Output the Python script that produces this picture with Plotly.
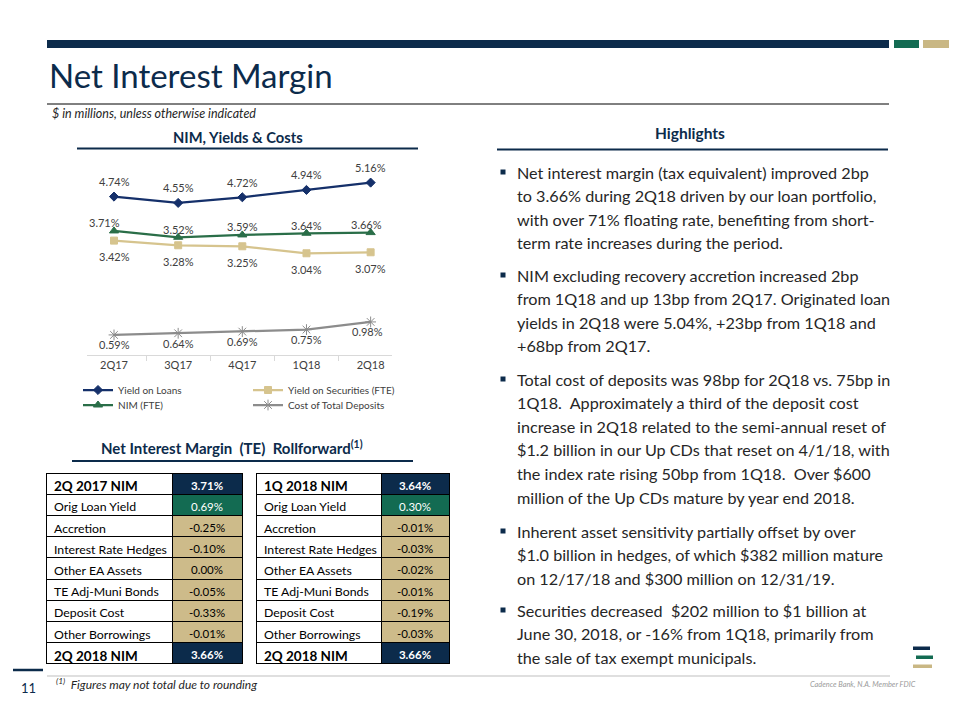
import plotly.graph_objects as go

W, H = 960, 720


def X(px):
    return px / W


def Y(py):
    return 1 - py / H


# ---------------- data ----------------
quarters = ["2Q17", "3Q17", "4Q17", "1Q18", "2Q18"]
yield_loans = [4.74, 4.55, 4.72, 4.94, 5.16]
yield_securities = [3.42, 3.28, 3.25, 3.04, 3.07]
nim_fte = [3.71, 3.52, 3.59, 3.64, 3.66]
cost_deposits = [0.59, 0.64, 0.69, 0.75, 0.98]

roll_labels_left = ["2Q 2017 NIM", "Orig Loan Yield", "Accretion", "Interest Rate Hedges",
                    "Other EA Assets", "TE Adj-Muni Bonds", "Deposit Cost", "Other Borrowings",
                    "2Q 2018 NIM"]
roll_values_left = [3.71, 0.69, -0.25, -0.10, 0.00, -0.05, -0.33, -0.01, 3.66]
roll_labels_right = ["1Q 2018 NIM", "Orig Loan Yield", "Accretion", "Interest Rate Hedges",
                     "Other EA Assets", "TE Adj-Muni Bonds", "Deposit Cost", "Other Borrowings",
                     "2Q 2018 NIM"]
roll_values_right = [3.64, 0.30, -0.01, -0.03, -0.02, -0.01, -0.19, -0.03, 3.66]

highlights = [
    ["Net interest margin (tax equivalent) improved 2bp",
     "to 3.66% during 2Q18 driven by our loan portfolio,",
     "with over 71% floating rate, benefiting from short-",
     "term rate increases during the period."],
    ["NIM excluding recovery accretion increased 2bp",
     "from 1Q18 and up 13bp from 2Q17. Originated loan",
     "yields in 2Q18 were 5.04%, +23bp from 1Q18 and",
     "+68bp from 2Q17."],
    ["Total cost of deposits was 98bp for 2Q18 vs. 75bp in",
     "1Q18.  Approximately a third of the deposit cost",
     "increase in 2Q18 related to the semi-annual reset of",
     "$1.2 billion in our Up CDs that reset on 4/1/18, with",
     "the index rate rising 50bp from 1Q18.  Over $600",
     "million of the Up CDs mature by year end 2018."],
    ["Inherent asset sensitivity partially offset by over",
     "$1.0 billion in hedges, of which $382 million mature",
     "on 12/17/18 and $300 million on 12/31/19."],
    ["Securities decreased  $202 million to $1 billion at",
     "June 30, 2018, or -16% from 1Q18, primarily from",
     "the sale of tax exempt municipals."],
]
para_tops = [172, 275, 379, 531, 610]
line_step = 23.6

# ---------------- style ----------------
FONT = "Lato"
NAVY = "#0c2b4b"
GREEN = "#136b52"
GOLD = "#c9b784"
TAN = "#cdbb8a"
LOAN_C = "#15306a"
NIM_C = "#2a6e48"
SEC_C = "#d6c48e"
DEP_C = "#8c8c8c"
LBL_C = "#404040"

fig = go.Figure()

fmt = lambda arr: [f"{v:.2f}%" for v in arr]

series = [
    dict(name="Yield on Loans", y=yield_loans, color=LOAN_C, symbol="diamond", size=7,
         legend="legend", dy=-15, dx=[0, 0, 0, 0, 0]),
    dict(name="NIM (FTE)", y=nim_fte, color=NIM_C, symbol="triangle-up", size=8,
         legend="legend2", dy=-8, dx=[-10, 0, 0, 0, -4]),
    dict(name="Yield on Securities (FTE)", y=yield_securities, color=SEC_C, symbol="square",
         size=7, legend="legend3", dy=16, dx=[0, 0, 0, 0, 0]),
    dict(name="Cost of Total Deposits", y=cost_deposits, color=DEP_C, symbol="asterisk-open",
         size=9, legend="legend4", dy=10, dx=[0, 0, 0, 0, -3]),
]

ann = []
for s in series:
    fig.add_trace(go.Scatter(
        x=quarters, y=s["y"], name=s["name"], legend=s["legend"], mode="lines+markers",
        line=dict(color=s["color"], width=2.25),
        marker=dict(symbol=s["symbol"], size=s["size"], color=s["color"],
                    line=dict(width=1, color=s["color"])),
        cliponaxis=False, hoverinfo="skip"))
    for q, v, dx in zip(quarters, s["y"], s["dx"]):
        ann.append(dict(x=q, y=v, xref="x", yref="y", text=f"{v:.2f}%", showarrow=False,
                        xshift=dx, yshift=-s["dy"], xanchor="center", yanchor="middle",
                        font=dict(family=FONT, size=11, color=LBL_C)))

# ---------------- tables ----------------
ROW_H = 21.2
TABLE_TOP = 473


def nb(s):
    return s.replace(" ", "\u00a0")


def roll_table(labels, values, x0, split, x1):
    vals = fmt(values)
    n = len(values)
    mid_fill = [GREEN] + [TAN] * (n - 3)
    mid_font = ["white"] + ["black"] * (n - 3)
    line = dict(color="black", width=1)
    body_bottom = TABLE_TOP + (n - 1) * ROW_H
    # first (bold) row as header, middle rows as cells
    t1 = go.Table(
        domain=dict(x=[X(x0), X(x1)], y=[Y(body_bottom + 2), Y(TABLE_TOP)]),
        columnwidth=[split - x0, x1 - split],
        header=dict(values=[nb(labels[0]), vals[0]], fill=dict(color=["white", NAVY]),
                    line=line, align=["left", "center"], height=ROW_H,
                    font=dict(family=FONT, size=[13.5, 11.5], color=["black", "white"],
                              weight="bold")),
        cells=dict(values=[[nb(l) for l in labels[1:-1]], vals[1:-1]],
                   fill=dict(color=[["white"] * (n - 2), mid_fill]),
                   line=line, align=["left", "center"], height=ROW_H,
                   font=dict(family=FONT, size=[12.3, 11.5],
                             color=[["black"] * (n - 2), mid_font])),
        hoverinfo="skip")
    # last (bold) total row
    t2 = go.Table(
        domain=dict(x=[X(x0), X(x1)], y=[Y(body_bottom + ROW_H + 2), Y(body_bottom)]),
        columnwidth=[split - x0, x1 - split],
        header=dict(values=[nb(labels[-1]), vals[-1]], fill=dict(color=["white", NAVY]),
                    line=line, align=["left", "center"], height=ROW_H,
                    font=dict(family=FONT, size=[13.5, 11.5], color=["black", "white"],
                              weight="bold")),
        cells=dict(values=[[], []], height=ROW_H),
        hoverinfo="skip")
    return [t1, t2]


for t in roll_table(roll_labels_left, roll_values_left, 46, 172, 242):
    fig.add_trace(t)
for t in roll_table(roll_labels_right, roll_values_right, 256, 381, 449):
    fig.add_trace(t)

# ---------------- shapes ----------------
shapes = []


def rect(x0, y0, x1, y1, color):
    shapes.append(dict(type="rect", xref="paper", yref="paper", x0=X(x0), x1=X(x1),
                       y0=Y(y1), y1=Y(y0), fillcolor=color, line=dict(width=0)))


def hline(x0, x1, y, color, width):
    shapes.append(dict(type="line", xref="paper", yref="paper", x0=X(x0), x1=X(x1),
                       y0=Y(y), y1=Y(y), line=dict(color=color, width=width)))


rect(47, 40, 889, 48, NAVY)
rect(894, 40, 919, 48, GREEN)
rect(923, 40, 949, 48, GOLD)
hline(47, 889, 104, "#000000", 1)
hline(77, 418, 148.5, NAVY, 2)
hline(497, 888, 149.5, NAVY, 2)
hline(72, 413, 461, NAVY, 2)
hline(13, 43, 670, NAVY, 2.5)
hline(47, 890, 676, "#bfbfbf", 1)
rect(913, 646.5, 930, 650, NAVY)
rect(916, 655.5, 933, 659, GREEN)
rect(913, 664.5, 932, 668, GOLD)
for py in para_tops:
    rect(500.5, py - 2.5, 505.5, py + 2.5, NAVY)


def text(x, y, s, size, color, anchor="left", family=FONT):
    ann.append(dict(x=X(x), y=Y(y), xref="paper", yref="paper", text=s, showarrow=False,
                    xanchor=anchor, yanchor="middle",
                    font=dict(family=family, size=size, color=color)))


text(47, 75, "Net Interest Margin", 33, NAVY)
text(50, 113, "<i>$ in millions, unless otherwise indicated</i>", 12.5, "#262626")
text(238, 137, "<b>NIM, Yields &amp; Costs</b>", 14.7, NAVY, anchor="center")
text(690, 133, "<b>Highlights</b>", 15.5, NAVY, anchor="center")
text(232, 447,
     "<b>Net Interest Margin\u00a0\u00a0(TE)\u00a0\u00a0Rollforward</b><sup><b>(1)</b></sup>",
     15, NAVY, anchor="center")
text(28, 688, "11", 13, NAVY, anchor="center")
text(54, 684, "<i><sup>(1)</sup>\u00a0\u00a0Figures may not total due to rounding</i>", 12,
     "#262626")
text(918, 684, "<i>Cadence Bank, N.A. Member FDIC</i>", 7.4, "#9a9a9a", anchor="right")

for lines, top in zip(highlights, para_tops):
    for i, ln in enumerate(lines):
        text(515, top + i * line_step, ln.replace("  ", "\u00a0 "), 16.2, "#262626")

legend_common = dict(xanchor="left", yanchor="middle", orientation="v",
                     font=dict(family=FONT, size=10, color=LBL_C),
                     bgcolor="rgba(0,0,0,0)", itemwidth=30)

fig.update_layout(
    width=W, height=H, margin=dict(l=0, r=0, t=0, b=0),
    paper_bgcolor="white", plot_bgcolor="white",
    showlegend=True, hovermode=False,
    font=dict(family=FONT, color=LBL_C),
    shapes=shapes, annotations=ann,
    xaxis=dict(domain=[X(86.5), X(391.5)], type="category", showgrid=False,
               showline=True, linecolor="#d9d9d9", linewidth=1,
               ticks="outside", tickson="boundaries", ticklen=5, tickcolor="#d9d9d9",
               tickfont=dict(family=FONT, size=11, color=LBL_C), fixedrange=True),
    yaxis=dict(domain=[Y(354.6), Y(154.6)], range=[0, 6], visible=False),
    legend=dict(x=X(78), y=Y(390), **legend_common),
    legend2=dict(x=X(78), y=Y(405), **legend_common),
    legend3=dict(x=X(248), y=Y(390), **legend_common),
    legend4=dict(x=X(248), y=Y(405), **legend_common),
)

fig.write_html("out.html", config={"displayModeBar": False},
               post_script="document.body.style.margin='0px';")
